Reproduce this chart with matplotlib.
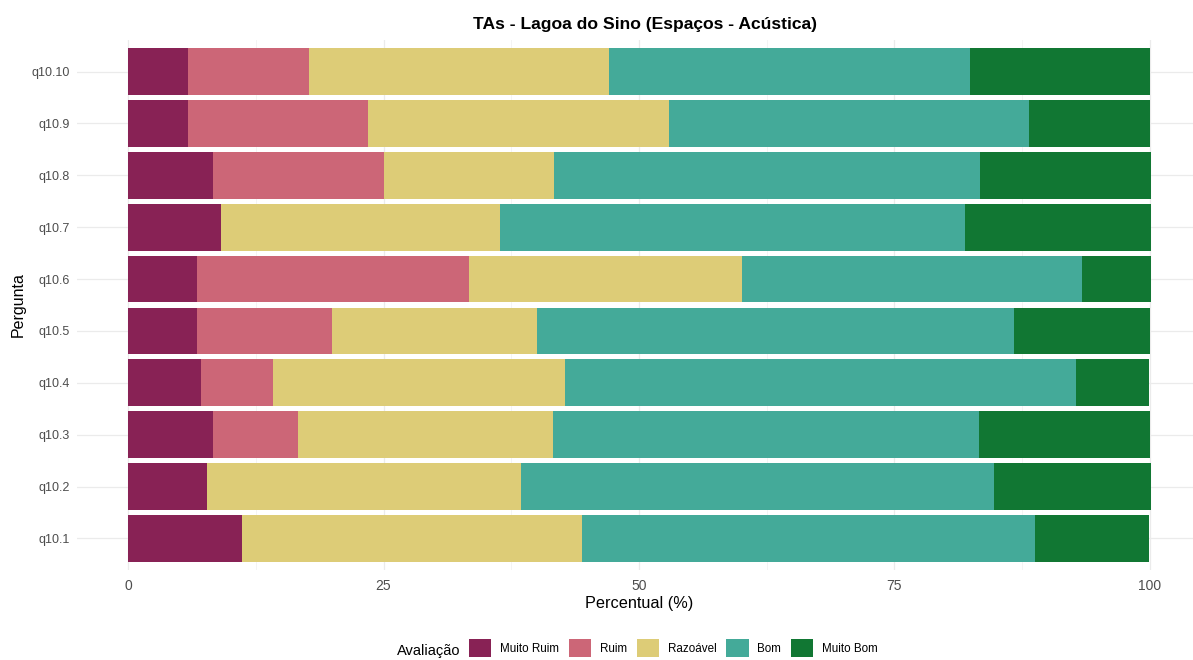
import matplotlib
matplotlib.use("Agg")
import matplotlib.pyplot as plt
from matplotlib.patches import Patch
import numpy as np

plt.rcParams['font.family'] = ['Liberation Sans', 'DejaVu Sans']

questions = ["q10.1", "q10.2", "q10.3", "q10.4", "q10.5",
             "q10.6", "q10.7", "q10.8", "q10.9", "q10.10"]
categories = ["Muito Ruim", "Ruim", "Razoável", "Bom", "Muito Bom"]
colors = ["#882255", "#CC6677", "#DDCC77", "#44AA99", "#117733"]

# percentages per question (order as in questions)
muito_ruim = [11.1, 7.7, 8.3, 7.1, 6.7, 6.7, 9.1, 8.3, 5.9, 5.9]
ruim       = [0.0, 0.0, 8.3, 7.1, 13.3, 26.7, 0.0, 16.7, 17.6, 11.8]
razoavel   = [33.3, 30.8, 25.0, 28.6, 20.0, 26.7, 27.3, 16.7, 29.4, 29.4]
bom        = [44.4, 46.2, 41.7, 50.0, 46.7, 33.3, 45.5, 41.7, 35.3, 35.3]
muito_bom  = [11.1, 15.4, 16.7, 7.1, 13.3, 6.7, 18.2, 16.7, 11.8, 17.6]
series = [muito_ruim, ruim, razoavel, bom, muito_bom]

fig = plt.figure(figsize=(11.93, 6.6), dpi=100)
ax = fig.add_axes([77/1193, 90.4/660, 1124/1193, 529.2/660])

y = np.arange(1, len(questions) + 1)
left = np.zeros(len(questions))
for vals, cat, col in zip(series, categories, colors):
    vals = np.array(vals)
    ax.barh(y, vals, left=left, height=0.9, color=col, label=cat, linewidth=0, zorder=3)
    left += vals

ax.set_xlim(-5, 105)
ax.set_ylim(0.4, len(questions) + 0.6)
ax.set_xticks([0, 25, 50, 75, 100])
ax.set_xticklabels(["0", "25", "50", "75", "100"])
ax.set_xticks([12.5, 37.5, 62.5, 87.5], minor=True)
ax.set_yticks(y)
ax.set_yticklabels(questions)
ax.grid(True, which='major', color='#EBEBEB', linewidth=0.9, zorder=0)
ax.grid(True, which='minor', axis='x', color='#F2F2F2', linewidth=0.6, zorder=0)
for s in ax.spines.values():
    s.set_visible(False)
ax.tick_params(axis='both', which='both', length=0, colors='#4D4D4D')
ax.tick_params(axis='x', labelsize=10, pad=7)
ax.tick_params(axis='y', labelsize=9, pad=5)

ax.set_xlabel("Percentual (%)", fontsize=11.7, color='black', labelpad=2)
ax.set_ylabel("Pergunta", fontsize=11.5, color='black', labelpad=4)
fig.text(645/1193, 1 - 24/660, "TAs - Lagoa do Sino (Espaços - Acústica)",
         ha='center', va='center', fontsize=12.6, fontweight='bold')

handles = [Patch(facecolor=c, edgecolor='none') for c in colors]
fig.text(397/1193, 1 - 651/660, "Avaliação", ha='left', va='center', fontsize=10.5)
leg = fig.legend(handles, categories, loc='center left',
                 bbox_to_anchor=(469/1193, 1 - 648/660), ncol=5, frameon=False,
                 fontsize=8.4, handlelength=1.9, handleheight=1.9,
                 handletextpad=0.75, columnspacing=0.85, borderaxespad=0, borderpad=0)

fig.savefig("out.png", dpi=100)
